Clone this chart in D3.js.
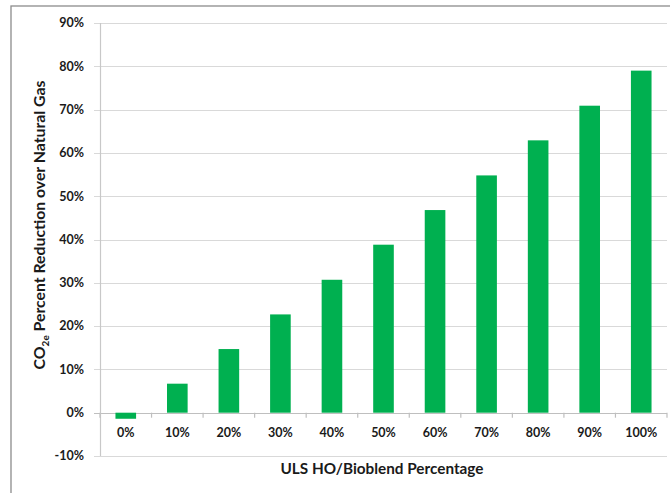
<!DOCTYPE html>
<html><head><meta charset="utf-8">
<script src="https://cdn.jsdelivr.net/npm/d3@7"></script>
<style>
body{margin:0;background:#fff;}
text{font-family:Lato,"Open Sans",sans-serif;font-weight:bold;fill:#1a1a1a;}
</style></head>
<body><svg id="c" width="670" height="493"></svg>
<script>
const categories = ["0%","10%","20%","30%","40%","50%","60%","70%","80%","90%","100%"];
const values = [-1.4, 6.7, 14.7, 22.7, 30.7, 38.8, 46.8, 54.8, 62.9, 70.9, 79.0];
const yTicks = [-10,0,10,20,30,40,50,60,70,80,90];

const svg = d3.select("#c");
svg.append("rect").attr("x",11).attr("y",6).attr("width",700).attr("height",520)
  .attr("fill","none").attr("stroke","#8c8c8c").attr("stroke-width",1.3);

const L=100, R=667;
const y = d3.scaleLinear().domain([-10,90]).range([456,23]);
const x = d3.scaleBand().domain(categories).range([L,R]).paddingInner(0.6).paddingOuter(0.3);
const xb = d3.scaleBand().domain(categories).range([L,R]);

// gridlines
svg.append("g").selectAll("line").data(yTicks).join("line")
  .attr("x1",94).attr("x2",R).attr("y1",d=>Math.round(y(d))+0.5).attr("y2",d=>Math.round(y(d))+0.5)
  .attr("stroke",d=>d===0?"#bfbfbf":"#d9d9d9").attr("stroke-width",1.2);
// left axis line
svg.append("line").attr("x1",L+0.5).attr("x2",L+0.5).attr("y1",y(90)).attr("y2",y(-10))
  .attr("stroke","#c8c8c8").attr("stroke-width",1.2);
// x ticks at zero line
svg.append("g").selectAll("line").data(d3.range(categories.length+1)).join("line")
  .attr("x1",i=>L+i*xb.step()).attr("x2",i=>L+i*xb.step())
  .attr("y1",y(0)).attr("y2",y(0)+5).attr("stroke","#bfbfbf").attr("stroke-width",1.2);

// bars
svg.append("g").selectAll("rect").data(values).join("rect")
  .attr("x",(d,i)=>x(categories[i])).attr("width",x.bandwidth())
  .attr("y",d=>y(Math.max(0,d))).attr("height",d=>Math.abs(y(d)-y(0)))
  .attr("fill","#00b050");

// y tick labels
svg.append("g").selectAll("text").data(yTicks).join("text")
  .attr("x",84).attr("y",d=>y(d)).attr("dy","0.35em").attr("text-anchor","end")
  .attr("font-size",12.5).text(d=>d+"%");
// x labels
svg.append("g").selectAll("text").data(categories).join("text")
  .attr("x",d=>xb(d)+xb.bandwidth()/2).attr("y",433).attr("dy","0.35em").attr("text-anchor","middle")
  .attr("font-size",12.5).text(d=>d);

// axis titles
svg.append("text").attr("x",382).attr("y",469).attr("dy","0.35em").attr("text-anchor","middle")
  .attr("font-size",15.3).text("ULS HO/Bioblend Percentage");
const yt = svg.append("text").attr("transform","translate(39,225) rotate(-90)")
  .attr("text-anchor","middle").attr("dy","0.35em").attr("font-size",15.8);
yt.append("tspan").text("CO");
yt.append("tspan").attr("font-size",10).attr("dy","4").text("2e");
yt.append("tspan").attr("dy","-4").text(" Percent Reduction over Natural Gas");
</script></body></html>
